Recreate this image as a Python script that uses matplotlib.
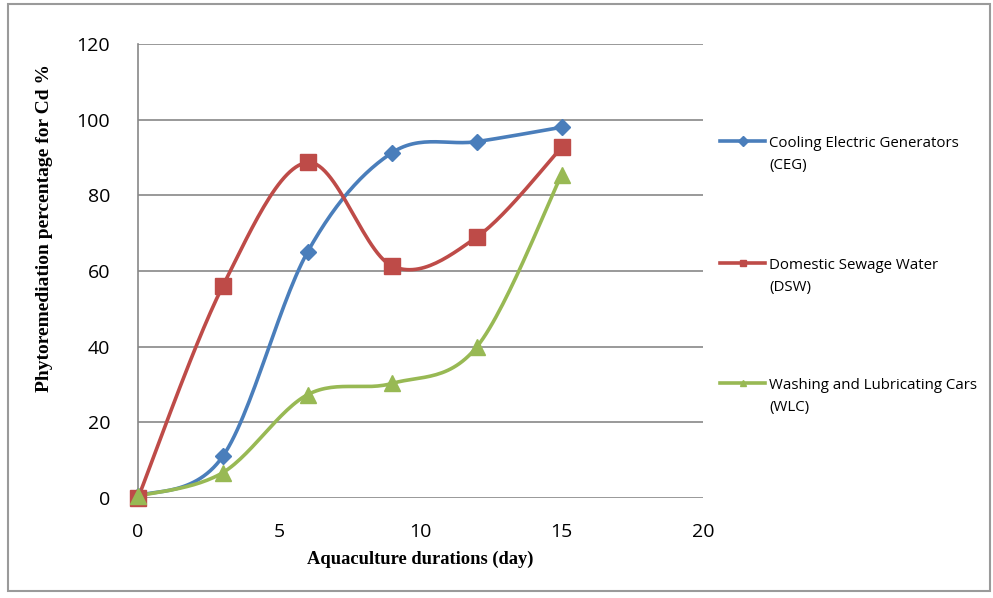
# Cd phytoremediation over aquaculture time, three water sources
import numpy as np
import matplotlib.pyplot as plt
from matplotlib.lines import Line2D
from matplotlib.patches import Rectangle

days = [0, 3, 6, 9, 12, 15]
ceg = [0.5, 11, 65, 91.3, 94.2, 98]
dsw = [0, 56, 88.7, 61.3, 69, 92.7]
wlc = [0.5, 6.7, 27.3, 30.3, 40, 85.5]

labels = ['Cooling Electric Generators\n(CEG)',
          'Domestic Sewage Water\n(DSW)',
          'Washing and Lubricating Cars\n(WLC)']
colors = ['#4A7EBB', '#BE4B48', '#98B954']
markers = ['D', 's', '^']
msizes = [8, 11, 11]


def smooth(x, y, n=30):
    # catmull-rom style bezier through the points (like a spreadsheet "smoothed line")
    p = np.column_stack([x, y]).astype(float)
    ext = np.vstack([p[0], p, p[-1]])
    t = np.linspace(0, 1, n)[:, None]
    out = []
    for i in range(len(p) - 1):
        p0, p1, p2, p3 = ext[i], ext[i + 1], ext[i + 2], ext[i + 3]
        b1 = p1 + (p2 - p0) / 6
        b2 = p2 - (p3 - p1) / 6
        seg = ((1 - t) ** 3) * p1 + 3 * ((1 - t) ** 2) * t * b1 + 3 * (1 - t) * t ** 2 * b2 + t ** 3 * p2
        out.append(seg if i == 0 else seg[1:])
    s = np.vstack(out)
    return s[:, 0], s[:, 1]


W, H = 993, 598
fig = plt.figure(figsize=(W / 100, H / 100), dpi=100)
ax = fig.add_axes([138 / W, 1 - 498 / H, 565 / W, 454 / H])

for ys, c, m, ms in zip([ceg, dsw, wlc], colors, markers, msizes):
    sx, sy = smooth(days, ys)
    ax.plot(sx, sy, color=c, lw=2.6, solid_capstyle='round', zorder=3)
    ax.plot(days, ys, ls='none', marker=m, ms=ms, color=c, zorder=4, clip_on=False)

ax.set_xlim(0, 20)
ax.set_ylim(0, 120)
ax.set_xticks(np.arange(0, 21, 5))
ax.set_yticks(np.arange(0, 121, 20))
ax.grid(axis='y', color='#878787', lw=1.2)
ax.set_axisbelow(True)
for s in ['top', 'right', 'bottom']:
    ax.spines[s].set_visible(False)
ax.spines['left'].set_color('#878787')
ax.spines['left'].set_linewidth(1.2)
ax.tick_params(axis='x', length=0, pad=18, labelsize=14)
ax.tick_params(axis='y', length=0, pad=20, labelsize=14)
for lbl in ax.get_xticklabels() + ax.get_yticklabels():
    lbl.set_fontfamily('Open Sans')

ax.set_xlabel('Aquaculture durations (day)', fontfamily='Liberation Serif',
              fontweight='bold', fontsize=13.3, labelpad=7)
ax.set_ylabel('Phytoremediation percentage for Cd %', fontfamily='Liberation Serif',
              fontweight='bold', fontsize=14)
ax.yaxis.set_label_coords(-0.150, 0.595)

# legend entries: handle level with the first text line
for lab, c, m, ypx in zip(labels, colors, markers, [141, 263, 383]):
    y = 1 - ypx / H
    fig.add_artist(Line2D([720 / W, 765 / W], [y, y], transform=fig.transFigure,
                          color=c, lw=2.6))
    fig.add_artist(Line2D([742.5 / W], [y], transform=fig.transFigure,
                          color=c, marker=m, ms=5, ls='none'))
    fig.text(769 / W, y + 5 / H, lab, transform=fig.transFigure, va='top', ha='left',
             fontfamily='Open Sans', fontsize=10.8, linespacing=1.6)

fig.patches.append(Rectangle((8 / W, 1 - 591 / H), 982 / W, 587 / H,
                             transform=fig.transFigure, fill=False,
                             edgecolor='#9a9a9a', lw=1.5))

fig.savefig('out.png', dpi=100)
